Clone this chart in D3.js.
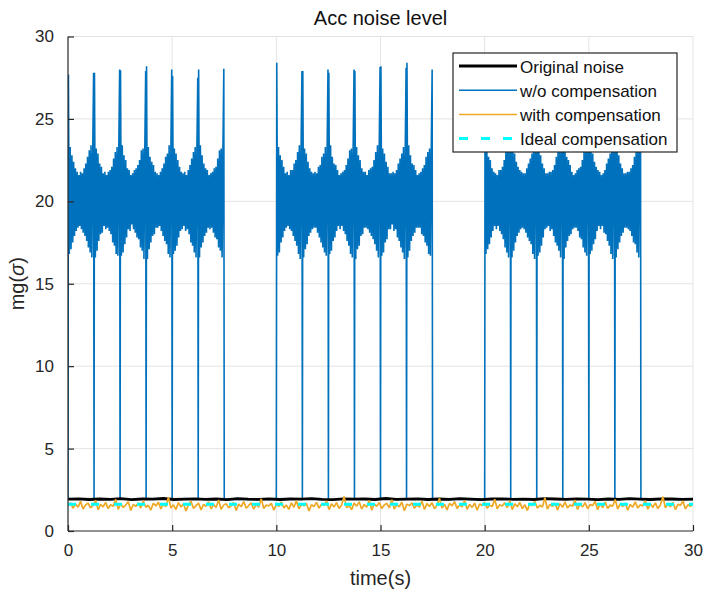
<!DOCTYPE html>
<html><head><meta charset="utf-8">
<script src="https://cdn.jsdelivr.net/npm/d3@7"></script>
<style>body{margin:0;background:#fff} text{font-family:"Liberation Sans",Arial,Helvetica,sans-serif}</style>
</head><body><svg id="c" width="705" height="594"></svg>
<script>
// ---------- data ----------
const chartTitle = "Acc noise level";
const xLabel = "time(s)";
const xTicks = [0, 5, 10, 15, 20, 25, 30];
const yTicks = [0, 5, 10, 15, 20, 25, 30];
const seriesNames = ["Original noise", "w/o compensation", "with compensation", "Ideal compensation"];
const seriesColors = ["#000000", "#0072BD", "#EDA825", "#00FFFF"];

// w/o compensation: three active windows, each made of 6 cycles of 1.25 s
const segmentStarts = [0, 10, 20];
const cyclePeriod = 1.25;
const cyclesPerSegment = 6;
const blueBaseline = 1.92;
const blueCycles = [
  "27.7 16.8 23.3 17.1 22.8 17.5 22.4 17.9 22.0 18.2 21.8 18.4 21.6 18.5 21.8 18.3 21.7 18.1 22.0 17.9 22.3 17.6 22.7 17.2 23.1 16.9 23.4 16.6 23.1 27.8",
  "27.8 16.6 23.2 17.0 22.9 17.6 22.3 18.0 22.1 18.1 21.7 18.5 21.8 18.3 21.6 18.4 21.8 18.2 21.9 18.0 22.1 17.5 22.6 17.3 23.0 16.8 23.3 16.7 23.2 28.0",
  "27.95 16.7 23.4 16.9 22.8 17.4 22.5 17.8 22.0 18.3 21.9 18.2 21.6 18.6 21.7 18.3 21.9 18.1 22.0 17.8 22.2 17.7 22.5 17.2 23.1 17.0 23.2 16.5 23.3 27.9",
  "28.2 16.5 23.3 17.1 22.7 17.5 22.4 17.9 22.2 18.0 21.8 18.4 21.7 18.4 21.6 18.5 21.8 18.2 22.0 17.9 22.3 17.6 22.7 17.4 22.9 16.8 23.4 16.6 23.1 28.0",
  "27.6 16.8 23.2 17.0 22.9 17.3 22.5 17.8 22.1 18.2 21.8 18.3 21.7 18.5 21.8 18.2 21.6 18.3 21.9 18.0 22.2 17.5 22.6 17.3 23.0 16.9 23.3 16.6 23.2 27.5",
  "28.0 16.6 23.4 17.2 22.8 17.5 22.3 17.9 22.0 18.1 21.9 18.4 21.6 18.3 21.7 18.4 21.8 18.1 22.0 17.8 22.1 17.7 22.6 17.2 23.1 17.0 23.2 16.6 23.3 28.05",
  "28.4 16.7 23.3 16.9 22.8 17.5 22.5 17.8 22.1 18.2 21.7 18.4 21.8 18.5 21.6 18.3 21.9 18.2 21.9 17.9 22.3 17.6 22.5 17.3 23.0 16.8 23.4 16.5 23.2 27.9",
  "27.9 16.6 23.2 17.1 22.9 17.4 22.4 17.9 22.0 18.1 21.8 18.3 21.7 18.4 21.8 18.4 21.7 18.1 22.1 17.8 22.2 17.5 22.7 17.2 22.9 16.9 23.3 16.7 23.1 28.0",
  "27.8 16.8 23.4 17.0 22.7 17.6 22.3 17.8 22.2 18.2 21.9 18.5 21.6 18.3 21.7 18.5 21.8 18.2 21.9 18.0 22.2 17.6 22.6 17.3 23.1 16.8 23.2 16.6 23.3 28.0",
  "27.9 16.5 23.3 17.1 22.8 17.3 22.5 17.9 22.0 18.0 21.8 18.4 21.8 18.4 21.6 18.3 21.9 18.1 22.0 17.9 22.1 17.7 22.5 17.4 23.0 17.0 23.4 16.6 23.2 28.15",
  "28.2 16.7 23.2 16.9 22.9 17.5 22.4 17.7 22.1 18.3 21.7 18.3 21.7 18.6 21.8 18.2 21.7 18.3 21.9 17.8 22.3 17.6 22.6 17.2 22.9 16.9 23.3 16.5 23.1 28.1",
  "28.4 16.6 23.4 17.0 22.8 17.6 22.3 17.9 22.2 18.1 21.9 18.4 21.6 18.4 21.7 18.4 21.8 18.0 22.0 17.9 22.2 17.5 22.7 17.3 23.0 16.8 23.2 16.7 23.3 28.0",
  "28.1 16.8 23.3 17.1 22.7 17.4 22.5 17.8 22.0 18.2 21.8 18.5 21.7 18.3 21.6 18.5 21.9 18.2 21.9 18.0 22.1 17.7 22.5 17.2 23.1 16.9 23.4 16.6 23.2 27.9",
  "28.0 16.6 23.2 17.0 22.9 17.5 22.4 17.9 22.1 18.1 21.9 18.3 21.8 18.4 21.7 18.3 21.7 18.1 22.0 17.8 22.3 17.6 22.6 17.4 22.9 16.8 23.3 16.5 23.1 28.2",
  "27.8 16.7 23.4 16.9 22.8 17.3 22.3 17.8 22.0 18.3 21.7 18.4 21.7 18.5 21.8 18.2 21.8 18.3 21.9 17.9 22.2 17.5 22.7 17.3 23.0 17.0 23.2 16.6 23.3 28.0",
  "28.1 16.5 23.3 17.2 22.7 17.6 22.5 17.9 22.2 18.0 21.8 18.3 21.6 18.4 21.7 18.4 21.9 18.2 22.0 17.8 22.1 17.7 22.5 17.2 23.1 16.9 23.3 16.7 23.2 27.9",
  "28.0 16.8 23.2 17.0 22.9 17.4 22.4 17.7 22.1 18.2 21.9 18.5 21.8 18.3 21.6 18.5 21.7 18.1 21.9 18.0 22.3 17.6 22.6 17.3 22.9 16.8 23.4 16.5 23.1 28.1",
  "27.9 16.6 23.3 17.1 22.8 17.5 22.3 17.9 22.0 18.1 21.7 18.4 21.7 18.4 21.8 18.3 21.8 18.2 22.0 17.9 22.2 17.5 22.7 17.4 23.0 16.9 23.2 16.6 23.3 28.0"
];

// Original noise (0..30 s, evenly sampled)
const originalNoise = "1.93 1.95 1.91 1.94 1.92 1.96 1.90 1.94 1.93 1.97 1.91 1.93 1.95 1.92 1.94 1.90 1.96 1.93 1.92 1.95 1.91 1.94 1.93 1.96 1.92 1.90 1.95 1.93 1.94 1.91 1.97 1.92 1.93 1.95 1.91 1.94 1.92 1.96 1.93 1.90 1.94 1.95 1.92 1.93 1.91 1.96 1.94 1.92 1.95 1.93 1.90 1.94 1.92 1.96 1.93 1.91 1.95 1.94 1.92 1.93";

// with compensation (0..30 s, evenly sampled)
const withCompensation = [
  "1.52 1.71 1.38 1.64 1.45 1.80 1.33 1.58 1.69 1.41 1.55 1.86 1.29 1.62 1.47 1.74 1.36 1.59 1.50 1.92 1.31 1.66 1.43 1.57 1.78",
  "1.25 1.61 1.49 1.70 1.39 1.83 1.44 1.56 1.27 1.68 1.52 1.75 1.34 1.63 1.48 2.05 1.40 1.59 1.30 1.72 1.46 1.65 1.22 1.58 1.81",
  "1.37 1.54 1.69 1.28 1.62 1.50 1.77 1.35 1.60 1.43 1.88 1.32 1.57 1.66 1.41 1.53 1.73 1.24 1.64 1.47 1.79 1.38 1.55 1.70 1.33",
  "1.61 1.45 1.95 1.36 1.58 1.52 1.68 1.26 1.63 1.49 1.76 1.40 1.57 1.31 1.71 1.44 1.84 1.35 1.60 1.53 1.67 1.21 1.59 1.48 1.74",
  "1.39 1.62 1.55 1.82 1.30 1.65 1.46 1.72 1.37 1.58 2.10 1.42 1.56 1.29 1.69 1.51 1.77 1.34 1.61 1.44 1.86 1.27 1.64 1.50 1.73",
  "1.36 1.57 1.68 1.41 1.90 1.33 1.60 1.47 1.75 1.23 1.63 1.54 1.70 1.38 1.59 1.45 1.81 1.31 1.66 1.49 1.72 1.35 1.56 1.98 1.40",
  "1.62 1.28 1.67 1.52 1.78 1.37 1.58 1.46 1.85 1.32 1.61 1.43 1.69 1.26 1.64 1.55 1.74 1.39 1.57 1.48 1.93 1.34 1.60 1.51 1.71",
  "1.42 1.83 1.30 1.65 1.47 1.73 1.36 1.59 1.24 1.68 1.53 1.79 1.38 1.56 1.45 2.02 1.33 1.62 1.49 1.70 1.27 1.66 1.44 1.76 1.40",
  "1.58 1.51 1.87 1.31 1.63 1.46 1.72 1.35 1.60 1.54 1.80 1.29 1.67 1.42 1.75 1.37 1.57 1.50 1.91 1.33 1.64 1.48 1.69 1.26 1.61",
  "1.45 1.77 1.39 1.59 1.52 1.84 1.32 1.66 1.43 1.71 1.36 1.58 2.08 1.41 1.63 1.47 1.74 1.30 1.62 1.55 1.82 1.34 1.60 1.49 1.70"
].join(" ");

// Ideal compensation: flat level
const idealTimes = [0, 30];
const idealLevel = [1.62, 1.62];

// ---------- build point lists ----------
const parse = s => s.trim().split(/\s+/).map(Number);
const evenly = vals => vals.map((v, i) => [i * 30 / (vals.length - 1), v]);

const bluePts = [[0, blueBaseline]];
segmentStarts.forEach((s, si) => {
  if (si > 0) bluePts.push([s, blueBaseline]);
  for (let c = 0; c < cyclesPerSegment; c++) {
    const t0 = s + c * cyclePeriod;
    if (c > 0) bluePts.push([t0, blueBaseline]);
    const vals = parse(blueCycles[si * cyclesPerSegment + c]);
    vals.forEach((v, i) => bluePts.push([t0 + (i + 0.5) * cyclePeriod / vals.length, v]));
  }
  bluePts.push([s + cyclesPerSegment * cyclePeriod, blueBaseline]);
});
bluePts.push([30, blueBaseline]);

const blackPts = evenly(parse(originalNoise));
const orangePts = evenly(parse(withCompensation));
const cyanPts = idealTimes.map((t, i) => [t, idealLevel[i]]);

// ---------- drawing ----------
const svg = d3.select("#c");
const L = 68, R = 693, T = 36.5, B = 531;
const x = d3.scaleLinear().domain([0, 30]).range([L, R]);
const y = d3.scaleLinear().domain([0, 30]).range([B, T]);
const axisCol = "#262626";

// grid
const g = svg.append("g");
g.selectAll(".gx").data(xTicks.filter(d => d > 0)).enter().append("line")
  .attr("x1", d => x(d)).attr("x2", d => x(d)).attr("y1", B).attr("y2", T)
  .attr("stroke", "#e3e3e3").attr("stroke-width", 1);
g.selectAll(".gy").data(yTicks.filter(d => d > 0)).enter().append("line")
  .attr("y1", d => y(d)).attr("y2", d => y(d)).attr("x1", L).attr("x2", R)
  .attr("stroke", "#e3e3e3").attr("stroke-width", 1);

svg.append("defs").append("clipPath").attr("id", "clip")
  .append("rect").attr("x", L).attr("y", T - 2).attr("width", R - L).attr("height", B - T + 2);

const line = d3.line().x(d => x(d[0])).y(d => y(d[1]));
const plot = svg.append("g").attr("clip-path", "url(#clip)");
plot.append("path").attr("d", line(bluePts)).attr("fill", "none")
  .attr("stroke", seriesColors[1]).attr("stroke-width", 1.6).attr("stroke-linejoin", "bevel");
plot.append("path").attr("d", line(blackPts)).attr("fill", "none")
  .attr("stroke", seriesColors[0]).attr("stroke-width", 2.8);
plot.append("path").attr("d", line(orangePts)).attr("fill", "none")
  .attr("stroke", seriesColors[2]).attr("stroke-width", 1.7).attr("stroke-linejoin", "bevel");
plot.append("path").attr("d", line(cyanPts)).attr("fill", "none")
  .attr("stroke", seriesColors[3]).attr("stroke-width", 3).attr("stroke-dasharray", "8,15");

// axes
const xAxis = d3.axisBottom(x).tickValues(xTicks).tickSize(-6).tickPadding(13).tickFormat(d3.format("d"));
const yAxis = d3.axisLeft(y).tickValues(yTicks).tickSize(-6).tickPadding(14).tickFormat(d3.format("d"));
const gx = svg.append("g").attr("transform", `translate(0,${B})`).call(xAxis);
const gy = svg.append("g").attr("transform", `translate(${L},0)`).call(yAxis);
[gx, gy].forEach(a => {
  a.select(".domain").attr("stroke", axisCol).attr("stroke-width", 1.2);
  a.selectAll(".tick line").attr("stroke", axisCol).attr("stroke-width", 1.2);
  a.selectAll(".tick text").attr("fill", axisCol).attr("font-size", 17)
    .attr("font-family", '"Liberation Sans",Arial,sans-serif');
});
gx.select(".domain").attr("d", `M${L},0H${R}`);
gy.select(".domain").attr("d", `M0,${B}V${T}`);
gx.selectAll(".tick text").attr("dy", "0.71em");

// title & labels
svg.append("text").attr("x", (L + R) / 2).attr("y", 25).attr("text-anchor", "middle")
  .attr("font-size", 20).attr("fill", "#111").text(chartTitle);
svg.append("text").attr("x", (L + R) / 2).attr("y", 585).attr("text-anchor", "middle")
  .attr("font-size", 20).attr("fill", axisCol).text(xLabel);
const yl = svg.append("text").attr("transform", `translate(24,${(T + B) / 2}) rotate(-90)`)
  .attr("text-anchor", "middle").attr("font-size", 20).attr("fill", axisCol);
yl.append("tspan").text("mg(");
yl.append("tspan").attr("font-style", "italic").text("σ");
yl.append("tspan").text(")");

// legend
const lg = svg.append("g");
lg.append("rect").attr("x", 453).attr("y", 53).attr("width", 224).attr("height", 99)
  .attr("fill", "#fff").attr("stroke", axisCol).attr("stroke-width", 1.2);
const legStyle = [
  {w: 3, dash: null}, {w: 1.5, dash: null}, {w: 1.5, dash: null}, {w: 3, dash: "9,13"}
];
seriesNames.forEach((n, i) => {
  const yy = 66 + i * 24.2;
  lg.append("line").attr("x1", 459).attr("x2", 517).attr("y1", yy).attr("y2", yy)
    .attr("stroke", seriesColors[i]).attr("stroke-width", legStyle[i].w)
    .attr("stroke-dasharray", legStyle[i].dash);
  lg.append("text").attr("x", 520).attr("y", yy + 6.5).attr("font-size", 17)
    .attr("fill", "#111").text(n);
});
</script>
</body></html>
